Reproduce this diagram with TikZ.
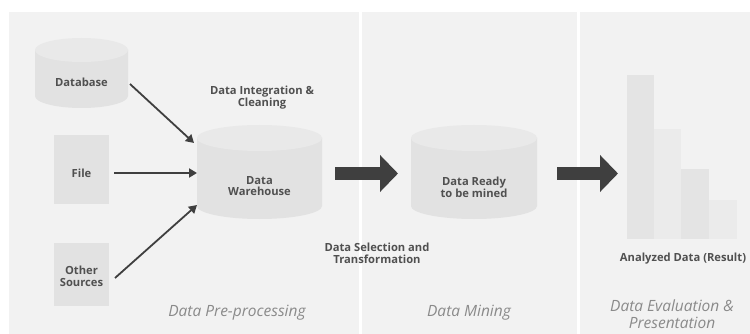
\documentclass[tikz,border=0pt]{standalone}
\usepackage{fontspec}
\setmainfont{Open Sans}
\usetikzlibrary{arrows.meta}
\definecolor{panelbg}{HTML}{F2F2F2}
\definecolor{cylbody}{HTML}{E2E2E2}
\definecolor{cyltop}{HTML}{E9E9E9}
\definecolor{barA}{HTML}{E4E4E4}
\definecolor{barB}{HTML}{EBEBEB}
\definecolor{arrowc}{HTML}{3F3F3F}
\definecolor{lblc}{HTML}{505050}
\definecolor{phasec}{HTML}{8A8A8A}
\tikzset{
  lbl/.style={font=\bfseries\fontsize{11.2}{11.8}\selectfont, text=lblc, align=center, inner sep=0pt},
  phase/.style={font=\itshape\fontsize{15.5}{16.5}\selectfont, text=phasec, align=center, inner sep=0pt},
  srcbox/.style={fill=cylbody, minimum width=55pt, inner sep=0pt, draw=none},
  thinarrow/.style={draw=arrowc, line width=1.8pt, -{Triangle[length=8pt,width=9pt]}},
  blockarrow/.style={draw=arrowc, line width=13pt, -{Triangle[length=18pt,width=36pt]}},
}
\begin{document}
\begin{tikzpicture}[x=1pt,y=-1pt]
\useasboundingbox (0,0) rectangle (750,334);
\fill[white] (0,0) rectangle (750,334);
% panels
\fill[panelbg] (9,12) rectangle (359,334);
\fill[panelbg] (362,12) rectangle (577,334);
\fill[panelbg] (580,12) rectangle (750,334);

% Database cylinder
\fill[cylbody] (35,50) -- (35,96) arc[start angle=180,end angle=0,x radius=46.5,y radius=12] -- (128,50) -- cycle;
\fill[cyltop] (81.5,50) ellipse[x radius=46.5,y radius=12];
\node[lbl, minimum width=93pt] (db) at (81.5,82) {Database};

% File box
\node[srcbox, minimum height=69pt] (file) at (81.5,169.5) {};
\node[lbl] (filet) at (81.5,173) {File};

% Other sources box
\node[srcbox, minimum height=63pt] (other) at (81.5,274.5) {};
\node[lbl] (othert) at (81.5,276) {Other\\Sources};

% Data warehouse cylinder
\fill[cylbody] (197,138) -- (197,206) arc[start angle=180,end angle=0,x radius=62.5,y radius=13] -- (322,138) -- cycle;
\fill[cyltop] (259.5,138) ellipse[x radius=62.5,y radius=13];
\node[lbl] (dw) at (259.5,186) {Data\\Warehouse};

% Data ready cylinder
\fill[cylbody] (411,138) -- (411,206) arc[start angle=180,end angle=0,x radius=63,y radius=13] -- (537,138) -- cycle;
\fill[cyltop] (474,138) ellipse[x radius=63,y radius=13];
\node[lbl] (dr) at (474,187) {Data Ready\\to be mined};

% bars
\fill[barA] (627,75) rectangle (654,239);
\fill[barB] (654,129) rectangle (681,239);
\fill[barA] (681,169) rectangle (709,239);
\fill[barB] (709,200) rectangle (737,239);

% labels
\node[lbl] (integ) at (262,97.5) {Data Integration \&\\Cleaning};
\node[lbl] (sel) at (377,253) {Data Selection and\\Transformation};
\node[lbl] (res) at (683,259) {Analyzed Data (Result)};

\node[phase] (p1) at (237,313) {Data Pre-processing};
\node[phase] (p2) at (469,313) {Data Mining};
\node[phase] (p3) at (672,314) {Data Evaluation \&\\Presentation};

% thin arrows
\coordinate (in1) at (194,143);
\coordinate (in2) at (197,173);
\coordinate (in3) at (197,205);
\draw[thinarrow] (130,84) -- (in1);
\draw[thinarrow] ([xshift=5pt]file.east |- filet) -- (in2);
\draw[thinarrow] (115,278) -- (in3);

% block arrows
\coordinate (b1s) at (335,173.5);
\coordinate (b1e) at (398,173.5);
\coordinate (b2s) at (557,173.5);
\coordinate (b2e) at (618,173.5);
\draw[blockarrow] (b1s) -- (b1e);
\draw[blockarrow] (b2s) -- (b2e);
\end{tikzpicture}
\end{document}
